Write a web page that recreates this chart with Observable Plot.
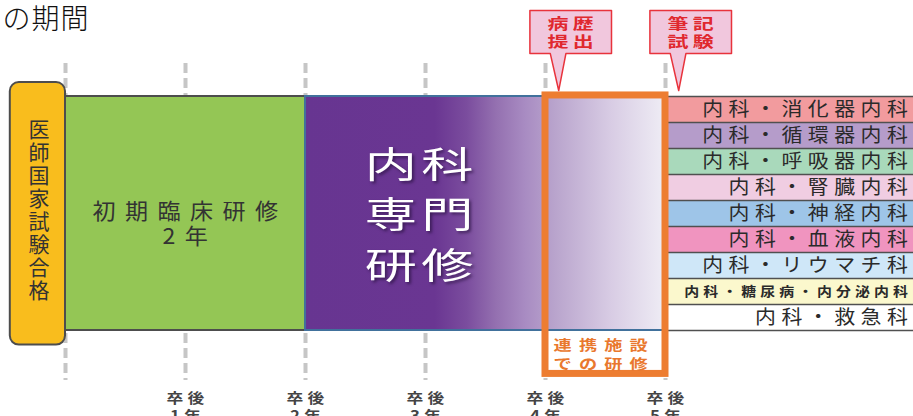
<!DOCTYPE html>
<html><head><meta charset="utf-8">
<script src="https://cdn.jsdelivr.net/npm/d3@7"></script>
<script src="https://cdn.jsdelivr.net/npm/@observablehq/plot@0.6"></script>
<style>body{margin:0;background:#fff;} #chart svg{display:block;}</style>
</head><body><div id="chart"></div>
<script>
// ---- data ----
const title = "の期間";
const gridYears = [0, 1, 2, 3, 4, 5];
const yearTicks = [1, 2, 3, 4, 5];
const yearLabels = ["卒後\n1年", "卒後\n2年", "卒後\n3年", "卒後\n4年", "卒後\n5年"];
const licenseLabel = "医師国家試験合格";
const initialLabel = "初期臨床研修\n2年";
const initialStart = 0, initialEnd = 2;
const specialtyLabel = "内科\n専門\n研修";
const specialtyStart = 2, specialtyEnd = 5;
const affiliateLabel = "連携施設\nでの研修";
const affiliateStart = 4, affiliateEnd = 5;
const milestones = ["病歴\n提出", "筆記\n試験"];
const milestoneYears = [4, 5];
const subspecialties = ["内科・消化器内科", "内科・循環器内科", "内科・呼吸器内科", "内科・腎臓内科",
  "内科・神経内科", "内科・血液内科", "内科・リウマチ科", "内科・糖尿病・内分泌内科", "内科・救急科"];

// ---- styles ----
const subColors = ["#f29b9e", "#b59cca", "#a9d9bb", "#f0cde2", "#9ec5e8", "#f094bf", "#cfe7f8", "#fbf8cd", "#ffffff"];
const font = "'Noto Sans CJK JP', 'Noto Sans', sans-serif";
const nRows = subspecialties.length;
const rows = subspecialties.map((name, i) => ({name, i}));

function calloutShape(a, k) {
  return [[a - 0.13, -3.31], [a + 0.55, -3.31], [a + 0.55, -1.65], [a + 0.17, -1.65], [a + 0.11, -0.23],
          [a + 0.04, -1.65], [a - 0.13, -1.65]].map(([x, y]) => ({x, y, k}));
}
const calloutPts = milestoneYears.flatMap((a, k) => calloutShape(a, k));

const chart = Plot.plot({
  width: 913, height: 416,
  marginTop: 0, marginRight: 0, marginBottom: 0, marginLeft: 0,
  x: {domain: [-65 / 120, 848 / 120], range: [0, 913], axis: null},
  y: {domain: [-96 / 26, 320 / 26], range: [0, 416], axis: null},
  style: {fontFamily: font},
  marks: [
    Plot.text([title], {frameAnchor: "top-left", text: d => d, dx: 2, dy: 9, lineAnchor: "top",
      fontSize: 28, fill: "#111", fontWeight: 300, ariaDescription: "ls-1"}),
    // grid
    Plot.ruleX(gridYears, {x: d => d, y1: -1.27, y2: 10.92, stroke: "#c6c6c6", strokeWidth: 4, strokeDasharray: "10,5"}),
    Plot.text(yearTicks, {x: d => d, y: 11.92, text: (d, i) => yearLabels[i], fontSize: 14, fontWeight: "bold",
      fill: "#444", lineHeight: 1.3, lineAnchor: "middle", ariaDescription: "ls-3.5 sx-1.2", dx: 2}),
    // license box
    Plot.rect([licenseLabel], {x1: -0.46, x2: 0, y1: -0.54, y2: 9.56, rx: 9, fill: "#f9bd1d", stroke: "#4d4d4d", strokeWidth: 2}),
    Plot.text([licenseLabel], {x: -0.22, y: 4.37, text: d => d.split("").join("\n"), fontSize: 21, lineHeight: 1.1,
      lineAnchor: "middle", fill: "#333"}),
    // initial training
    Plot.rect([initialLabel], {x1: initialStart, x2: initialEnd, y1: 0, y2: nRows, fill: "#94c655", stroke: "#4d4d4d", strokeWidth: 2}),
    Plot.text([initialLabel], {x: (initialStart + initialEnd) / 2, y: 4.87, text: d => d, fontSize: 22, lineHeight: 1.15,
      lineAnchor: "middle", fill: "#333", ariaDescription: "ls-9 sx-1.05", dx: 4.5}),
    // specialty training
    Plot.rect([specialtyLabel], {x1: specialtyStart, x2: specialtyEnd, y1: 0, y2: nRows, fill: "url(#purpleGrad)", stroke: "#41719c", strokeWidth: 2}),
    Plot.text([specialtyLabel], {x: 2.946, y: 4.46, text: d => d, fontSize: 36, lineHeight: 1.39,
      lineAnchor: "middle", fill: "#fff", ariaDescription: "ls-3 sx-1.45 shadow", dx: 2.2}),
    // subspecialty rows
    Plot.rect(rows, {x1: specialtyEnd, x2: 7.3, y1: d => d.i, y2: d => d.i + 1, fill: d => subColors[d.i]}),
    Plot.ruleY(d3.range(0, nRows + 1), {y: d => d, x1: specialtyEnd, x2: 7.3, stroke: "#505050", strokeWidth: 1.5}),
    Plot.text(rows.filter(d => d.name.length < 10), {x: 7.02, y: d => d.i + 0.5, text: "name", textAnchor: "end",
      fontSize: 19, fill: "#2a2a2a", ariaDescription: "ls-5 sx-1.1", dx: 5.5}),
    Plot.text(rows.filter(d => d.name.length >= 10), {x: 7.02, y: d => d.i + 0.5, text: "name", textAnchor: "end",
      fontSize: 13, fontWeight: "bold", fill: "#2a2a2a", ariaDescription: "ls-3.5 sx-1.15", dx: 4}),
    // affiliate box
    Plot.rect([affiliateLabel], {x1: affiliateStart, x2: affiliateEnd, y1: -0.04, y2: 10.67, fill: "none", stroke: "#ed7d31", strokeWidth: 7}),
    Plot.text([affiliateLabel], {x: (affiliateStart + affiliateEnd) / 2 - 0.04, y: 9.88, text: d => d, fontSize: 14, fontWeight: "bold",
      fill: "#e9782e", lineHeight: 1.4, lineAnchor: "middle", ariaDescription: "ls-5.5 sx-1.3", dx: 3.5}),
    // callouts
    Plot.line(calloutPts, {x: "x", y: "y", z: "k", curve: "linear-closed", fill: "#f1c7dd", stroke: "#e8333c", strokeWidth: 1.5}),
    Plot.text(milestoneYears, {x: d => d + 0.21, y: -2.48, text: (d, i) => milestones[i], fontSize: 15, fontWeight: "bold",
      fill: "#e0282e", lineHeight: 1.2, lineAnchor: "middle", ariaDescription: "ls-3 sx-1.4", dx: 2})
  ]
});

const svg = d3.select(chart);
svg.insert("defs", ":first-child").html(`
  <linearGradient id="purpleGrad" x1="0" x2="1" y1="0" y2="0">
    <stop offset="0" stop-color="#673591"/>
    <stop offset="0.36" stop-color="#6a3692"/>
    <stop offset="0.45" stop-color="#7b4d9e"/>
    <stop offset="0.53" stop-color="#9470b0"/>
    <stop offset="0.61" stop-color="#a88bc2"/>
    <stop offset="0.69" stop-color="#b8a3cc"/>
    <stop offset="0.85" stop-color="#d8cce4"/>
    <stop offset="1" stop-color="#efedf5"/>
  </linearGradient>`);
svg.selectAll("g[aria-description]").each(function() {
  const desc = this.getAttribute("aria-description");
  const m = desc.match(/ls-(\d+(?:\.\d+)?)/);
  if (m) this.setAttribute("letter-spacing", m[1]);
  const s = desc.match(/sx-(\d+(?:\.\d+)?)/);
  if (s) {
    d3.select(this).selectAll("text").each(function() {
      const t = this.getAttribute("transform");
      if (t) this.setAttribute("transform", `${t} scale(${s[1]},1)`);
    });
  }
  if (desc.includes("shadow")) this.style.filter = "drop-shadow(2px 2px 1.5px rgba(30,10,50,0.6))";
});
document.getElementById("chart").appendChild(chart);
</script>
</body></html>
